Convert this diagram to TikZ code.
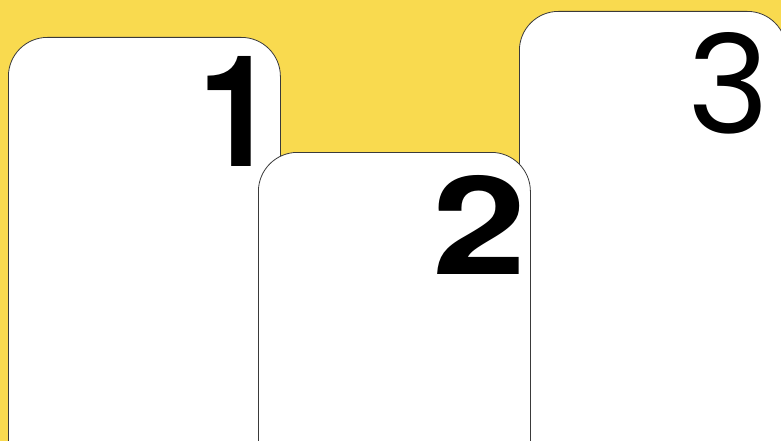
\documentclass[tikz,border=0pt]{standalone}
\usepackage{fontspec}
\newfontfamily\herosfont{TeX Gyre Heros}
\newfontfamily\popfont{Poppins}
\definecolor{bgyellow}{HTML}{F9DA4F}
\definecolor{cardline}{HTML}{3A3A3A}
\begin{document}
\begin{tikzpicture}[x=1pt,y=-1pt,
  card/.style={draw=cardline, line width=0.8pt, fill=white, rounded corners=39pt,
    rectangle, anchor=north west, inner sep=0pt},
  digit/.style={anchor=base west, inner sep=0pt, outer sep=0pt, text=black}]
\useasboundingbox (0,0) rectangle (781,441);
\fill[bgyellow] (0,0) rectangle (781,441);
\clip (0,0) rectangle (781,441);
% cards
\node[card, minimum width=272pt, minimum height=460pt] (c1) at (8,37) {};
\node[card, minimum width=267pt, minimum height=480pt] (c3) at (519,11) {};
\node[card, minimum width=272pt, minimum height=340pt] (c2) at (258,152) {};
% digits
\node[digit] (n1) at (198.4,167) {\resizebox{77.4pt}{110pt}{\herosfont\bfseries 1}};
\node[digit] (n2) at (432.6,274) {\resizebox{94pt}{99pt}{\herosfont\bfseries 2}};
\node[digit] (n3) at (687,133) {\resizebox{82pt}{101pt}{\popfont 3}};
\end{tikzpicture}
\end{document}
